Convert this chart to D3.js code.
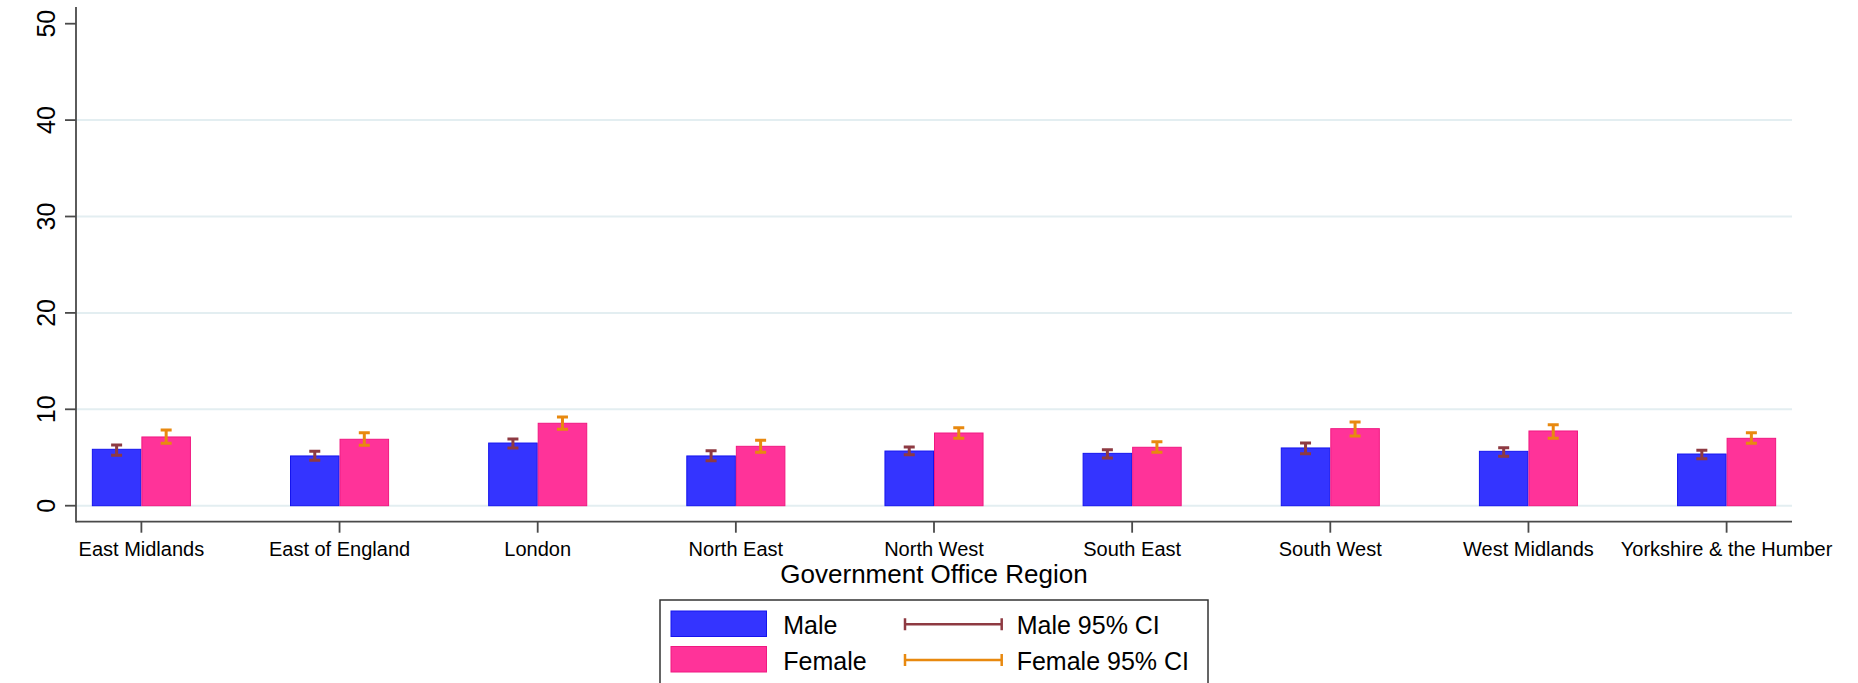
<!DOCTYPE html>
<html>
<head>
<meta charset="utf-8">
<script src="https://cdn.jsdelivr.net/npm/d3@7"></script>
<style>
  html, body { margin: 0; padding: 0; background: #fff; }
  svg { display: block; }
  text { font-family: "Liberation Sans", Arial, Helvetica, sans-serif; fill: #000; }
</style>
</head>
<body>
<svg id="chart" width="1858" height="683"></svg>
<script>
// ---- data ----
const regions = ["East Midlands", "East of England", "London", "North East", "North West",
                 "South East", "South West", "West Midlands", "Yorkshire & the Humber"];
const maleVals   = [5.85, 5.16, 6.50, 5.16, 5.67, 5.43, 5.99, 5.64, 5.36];
const maleLo     = [5.23, 4.71, 5.99, 4.67, 5.29, 4.95, 5.40, 5.12, 4.88];
const maleHi     = [6.30, 5.64, 6.92, 5.71, 6.09, 5.81, 6.50, 6.02, 5.74];
const femaleVals = [7.13, 6.89, 8.55, 6.16, 7.54, 6.06, 7.99, 7.75, 6.99];
const femaleLo   = [6.47, 6.27, 7.92, 5.54, 6.99, 5.54, 7.23, 6.99, 6.47];
const femaleHi   = [7.85, 7.57, 9.20, 6.78, 8.09, 6.64, 8.68, 8.40, 7.57];
const yTicks     = [0, 10, 20, 30, 40, 50];
const gridTicks  = [0, 10, 20, 30, 40];
const xTitle = "Government Office Region";
const legendItems = ["Male", "Female", "Male 95% CI", "Female 95% CI"];

// ---- styles ----
const maleFill = "#3434ff", maleStroke = "#1414ee";
const femaleFill = "#ff3399", femaleStroke = "#f01880";
const maleCI = "#8e3a42", femaleCI = "#e8890f";
const axisColor = "#4a4a4a";
const gridColor = "#e3eef1";

const svg = d3.select("#chart");
const left = 76, right = 1792, plotTop = 7, plotBottom = 521.7;

const x = d3.scalePoint().domain(regions).range([left, right]).padding(0.33);
const y = d3.scaleLinear().domain([0, 50]).range([505.7, 23.7]);
const barW = x.step() * 0.25;

// gridlines
svg.append("g").selectAll("line").data(gridTicks).join("line")
  .attr("x1", left + 1).attr("x2", right)
  .attr("y1", d => y(d)).attr("y2", d => y(d))
  .attr("stroke", gridColor).attr("stroke-width", 2);

// bars
const rows = regions.map((r, i) => ({r, m: maleVals[i], f: femaleVals[i],
  mlo: maleLo[i], mhi: maleHi[i], flo: femaleLo[i], fhi: femaleHi[i]}));

const gb = svg.append("g");
gb.selectAll("rect.m").data(rows).join("rect").attr("class", "m")
  .attr("x", d => x(d.r) - barW + 0.5).attr("width", barW - 1)
  .attr("y", d => y(d.m)).attr("height", d => y(0) - y(d.m))
  .attr("fill", maleFill).attr("stroke", maleStroke).attr("stroke-width", 1);
gb.selectAll("rect.f").data(rows).join("rect").attr("class", "f")
  .attr("x", d => x(d.r) + 0.5).attr("width", barW - 1)
  .attr("y", d => y(d.f)).attr("height", d => y(0) - y(d.f))
  .attr("fill", femaleFill).attr("stroke", femaleStroke).attr("stroke-width", 1);

// error bars
function errBars(cls, cxFn, loKey, hiKey, color) {
  const g = svg.append("g").attr("stroke", color).attr("stroke-width", 3).attr("fill", "none");
  g.selectAll("path." + cls).data(rows).join("path").attr("class", cls)
    .attr("d", d => {
      const cx = cxFn(d), yl = y(d[loKey]), yh = y(d[hiKey]), c = 5.5;
      return `M${cx},${yl}V${yh}M${cx - c},${yh}H${cx + c}M${cx - c},${yl}H${cx + c}`;
    });
}
errBars("me", d => x(d.r) - barW / 2, "mlo", "mhi", maleCI);
errBars("fe", d => x(d.r) + barW / 2, "flo", "fhi", femaleCI);

// axes
svg.append("line").attr("x1", left).attr("x2", left).attr("y1", plotTop).attr("y2", plotBottom + 0.75)
  .attr("stroke", axisColor).attr("stroke-width", 1.8);
svg.append("line").attr("x1", left).attr("x2", right).attr("y1", plotBottom).attr("y2", plotBottom)
  .attr("stroke", axisColor).attr("stroke-width", 1.8);

// y ticks
const gy = svg.append("g");
gy.selectAll("line").data(yTicks).join("line")
  .attr("x1", left - 11).attr("x2", left).attr("y1", d => y(d)).attr("y2", d => y(d))
  .attr("stroke", axisColor).attr("stroke-width", 1.8);
gy.selectAll("text").data(yTicks).join("text")
  .attr("transform", d => `translate(55,${y(d)}) rotate(-90)`)
  .attr("text-anchor", "middle").attr("font-size", 25).text(d => d);

// x ticks
const gx = svg.append("g");
gx.selectAll("line").data(regions).join("line")
  .attr("x1", d => x(d)).attr("x2", d => x(d)).attr("y1", plotBottom).attr("y2", plotBottom + 11)
  .attr("stroke", axisColor).attr("stroke-width", 1.8);
gx.selectAll("text").data(regions).join("text")
  .attr("x", d => x(d)).attr("y", 556).attr("text-anchor", "middle").attr("font-size", 20).text(d => d);

// x title
svg.append("text").attr("x", (left + right) / 2).attr("y", 583.3).attr("text-anchor", "middle")
  .attr("font-size", 26).text(xTitle);

// legend
const lg = svg.append("g");
lg.append("rect").attr("x", 660).attr("y", 600).attr("width", 548).attr("height", 100)
  .attr("fill", "#fff").attr("stroke", "#333").attr("stroke-width", 1.5);
lg.append("rect").attr("x", 671).attr("y", 611).attr("width", 95.5).attr("height", 25.5)
  .attr("fill", maleFill).attr("stroke", maleStroke).attr("stroke-width", 1);
lg.append("rect").attr("x", 671).attr("y", 646.5).attr("width", 95.5).attr("height", 25.5)
  .attr("fill", femaleFill).attr("stroke", femaleStroke).attr("stroke-width", 1);
lg.append("text").attr("x", 783.3).attr("y", 634).attr("font-size", 25).text(legendItems[0]);
lg.append("text").attr("x", 783.3).attr("y", 670).attr("font-size", 25).text(legendItems[1]);
[[624.3, maleCI], [660, femaleCI]].forEach(([ly, col]) => {
  lg.append("path").attr("d", `M905,${ly}H1001.7M905,${ly - 6}V${ly + 6}M1001.7,${ly - 6}V${ly + 6}`)
    .attr("stroke", col).attr("stroke-width", 2.5).attr("fill", "none");
});
lg.append("text").attr("x", 1016.7).attr("y", 634).attr("font-size", 25).text(legendItems[2]);
lg.append("text").attr("x", 1016.7).attr("y", 670).attr("font-size", 25).text(legendItems[3]);
</script>
</body>
</html>
